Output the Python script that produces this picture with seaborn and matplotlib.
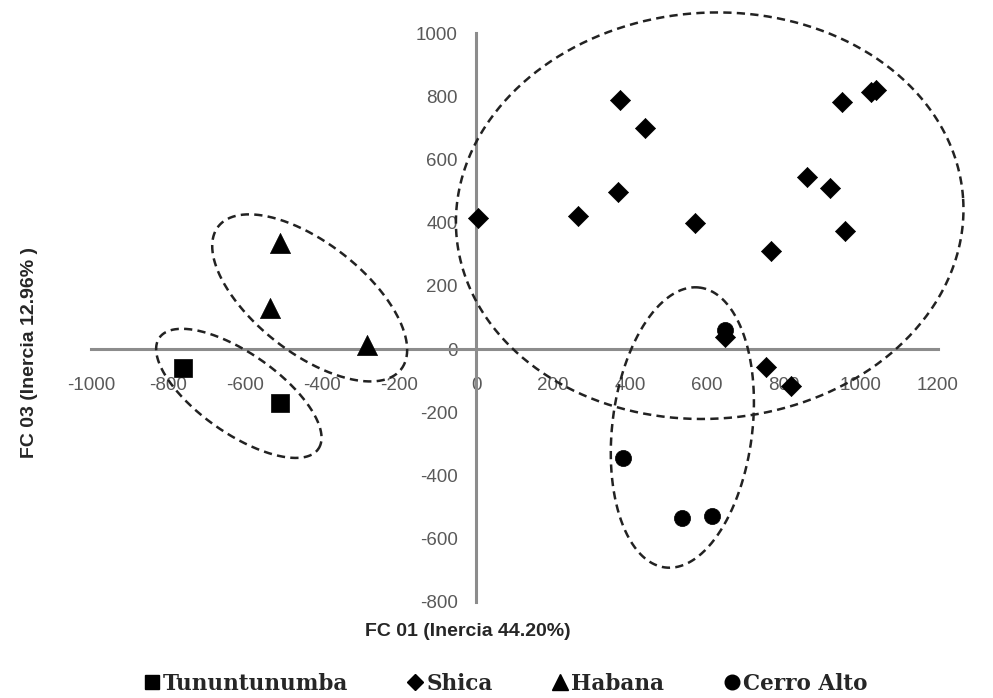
import numpy as np
import pandas as pd
import matplotlib
matplotlib.use("Agg")
import matplotlib.pyplot as plt
import seaborn as sns
from matplotlib.lines import Line2D

# ---- data ----
groups = ["Tununtunumba", "Shica", "Habana", "Cerro Alto"]
tun_x = [-761, -508]
tun_y = [-60, -171]
shica_x = [5, 264, 369, 375, 438, 570, 765, 860, 920, 958, 950, 1025, 1040, 752, 818, 646]
shica_y = [416, 422, 498, 787, 698, 400, 311, 543, 511, 375, 781, 812, 820, -57, -117, 38]
hab_x = [-510, -535, -284]
hab_y = [336, 130, 13]
cerro_x = [646, 383, 535, 612]
cerro_y = [60, -346, -533, -527]

x_ticks = list(range(-1000, 1201, 200))
y_ticks = list(range(-800, 1001, 200))
x_title = "FC 01 (Inercia 44.20%)"
y_title = "FC 03 (Inercia 12.96% )"

# ellipse annotations: centre (data), semi-axes (px), angle (deg)
ellipses = [
    (607, 422, 254, 203, 4),
    (536, -248, 141, 70, 83),
    (-432, 162, 116, 55, -38),
    (-616, -140, 97, 40, -35),
]

df = pd.concat([
    pd.DataFrame({"x": tun_x, "y": tun_y, "g": groups[0]}),
    pd.DataFrame({"x": shica_x, "y": shica_y, "g": groups[1]}),
    pd.DataFrame({"x": hab_x, "y": hab_y, "g": groups[2]}),
    pd.DataFrame({"x": cerro_x, "y": cerro_y, "g": groups[3]}),
])

sns.set_style("white")
plt.rcParams["font.family"] = ["Liberation Sans", "DejaVu Sans"]

fig = plt.figure(figsize=(9.93, 6.98), dpi=100)
ax = fig.add_axes([91 / 993, 96 / 698, 847 / 993, 569 / 698])
ax.set_xlim(-1000, 1200)
ax.set_ylim(-800, 1000)

markers = {"Tununtunumba": "s", "Shica": "D", "Habana": "^", "Cerro Alto": "o"}
sizes = {"Tununtunumba": 170, "Shica": 105, "Habana": 210, "Cerro Alto": 135}
for g in groups:
    sns.scatterplot(data=df[df.g == g], x="x", y="y", marker=markers[g], s=sizes[g],
                    color="black", edgecolor="black", linewidth=0.5, ax=ax,
                    legend=False, zorder=4, clip_on=False)

for sp in ["top", "right"]:
    ax.spines[sp].set_visible(False)
for sp in ["left", "bottom"]:
    ax.spines[sp].set_position(("data", 0))
    ax.spines[sp].set_color("#8c8c8c")
    ax.spines[sp].set_linewidth(2.2)

ax.set_xticks(x_ticks)
ax.set_yticks(y_ticks)
ax.set_xticklabels([str(v) for v in x_ticks])
ax.set_yticklabels([str(v) for v in y_ticks])
ax.tick_params(axis="x", length=0, pad=20, labelsize=13.5, labelcolor="#595959")
ax.tick_params(axis="y", length=0, pad=13, labelsize=13.5, labelcolor="#595959")
ax.set_xlabel("")
ax.set_ylabel("")


def draw_ellipse(cx, cy, a, b, ang):
    t = np.linspace(0, 2 * np.pi, 500)
    c = ax.transData.transform((cx, cy))
    th = np.deg2rad(ang)
    px = c[0] + a * np.cos(t) * np.cos(th) - b * np.sin(t) * np.sin(th)
    py = c[1] + a * np.cos(t) * np.sin(th) + b * np.sin(t) * np.cos(th)
    d = ax.transData.inverted().transform(np.column_stack([px, py]))
    ax.plot(d[:, 0], d[:, 1], ls=(0, (3.3, 2.1)), color="#222222", lw=1.8,
            clip_on=False, zorder=3)


for e in ellipses:
    draw_ellipse(*e)

title_font = dict(family="Liberation Sans", weight="bold", size=14, color="#262626")
fig.text(468 / 993, 1 - 632 / 698, x_title, ha="center", va="center", **title_font)
fig.text(30 / 993, 1 - 352 / 698, y_title, ha="center", va="center", rotation=90, **title_font)

msz = {"Tununtunumba": 10.5, "Shica": 8.5, "Habana": 11, "Cerro Alto": 10.5}
handles = [Line2D([], [], marker=markers[g], color="black", ls="none", markersize=msz[g])
           for g in groups]
fig.legend(handles, groups, loc="center", bbox_to_anchor=(504 / 993, 1 - 684 / 698), ncol=4,
           frameon=False, prop=dict(family="DejaVu Serif", weight="bold", size=15.5),
           columnspacing=2.65, handletextpad=0.0, handlelength=1.0)

fig.savefig("out.png", dpi=100)
